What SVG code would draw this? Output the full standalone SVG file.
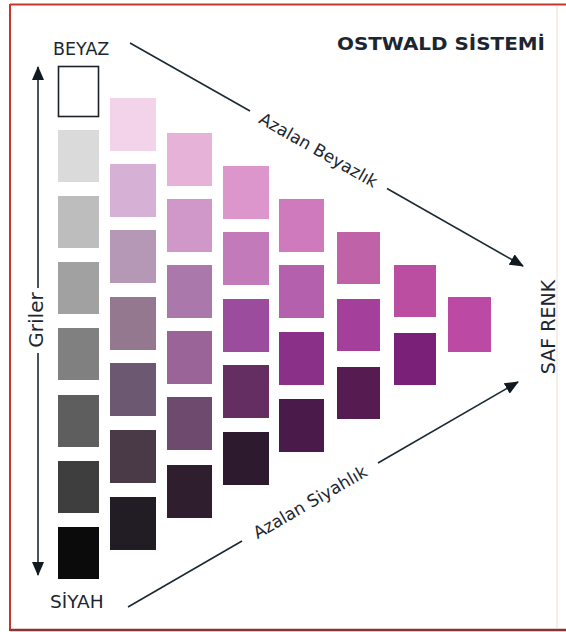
<svg xmlns="http://www.w3.org/2000/svg" width="566" height="632" viewBox="0 0 566 632">
<style>
.lbl{font-family:"DejaVu Sans",Verdana,sans-serif;fill:#1b2630}
.ln{stroke:#1b2a32;stroke-width:1.6;fill:none}
</style>
<defs>
<marker id="ah" viewBox="0 0 14 12" refX="13" refY="6" markerWidth="14" markerHeight="12" markerUnits="userSpaceOnUse" orient="auto">
<path d="M0,0 L14,6 L0,12 z" fill="#111a20"/>
</marker>
</defs>
<rect width="566" height="632" fill="#ffffff"/>
<g id="frame">
<line x1="10" y1="4.5" x2="566" y2="4.5" stroke="#c2382e" stroke-width="2"/>
<line x1="10" y1="4" x2="10" y2="631" stroke="#c2382e" stroke-width="2"/>
<line x1="10" y1="630" x2="566" y2="630" stroke="#8c3230" stroke-width="2.5"/>
<line x1="557" y1="6" x2="557" y2="628" stroke="#f6eee8" stroke-width="2"/>
</g>
<g id="title"><text class="lbl" x="337" y="50" font-size="17" font-weight="bold" textLength="208" lengthAdjust="spacingAndGlyphs">OSTWALD SİSTEMİ</text></g>
<g id="col1">
<rect x="58.5" y="66.5" width="40" height="50" fill="#ffffff" stroke="#1a2228" stroke-width="1.6"/>
<rect x="58" y="130" width="41" height="52" fill="#dadada"/>
<rect x="58" y="196" width="41" height="52" fill="#bdbdbd"/>
<rect x="58" y="262" width="41" height="52" fill="#a1a1a1"/>
<rect x="58" y="328" width="41" height="52" fill="#808080"/>
<rect x="58" y="395" width="41" height="52" fill="#5e5e5e"/>
<rect x="58" y="461" width="41" height="52" fill="#3e3e3e"/>
<rect x="58" y="527" width="41" height="52" fill="#0b0b0b"/>
</g>
<g id="col2">
<rect x="110" y="98" width="46" height="53" fill="#f2d3e9"/>
<rect x="110" y="164" width="46" height="53" fill="#d7b0d5"/>
<rect x="110" y="230" width="46" height="53" fill="#b598b5"/>
<rect x="110" y="297" width="46" height="53" fill="#93788f"/>
<rect x="110" y="363" width="46" height="53" fill="#6c5870"/>
<rect x="110" y="430" width="46" height="53" fill="#4a3a48"/>
<rect x="110" y="497" width="46" height="53" fill="#221c24"/>
</g>
<g id="col3">
<rect x="167" y="133" width="45" height="53" fill="#e6b2d8"/>
<rect x="167" y="199" width="45" height="53" fill="#cf98c9"/>
<rect x="167" y="265" width="45" height="53" fill="#aa78aa"/>
<rect x="167" y="331" width="45" height="53" fill="#9a6498"/>
<rect x="167" y="397" width="45" height="53" fill="#6e4a6e"/>
<rect x="167" y="465" width="45" height="53" fill="#2e1e2e"/>
</g>
<g id="col4">
<rect x="223" y="166" width="46" height="53" fill="#dc96cc"/>
<rect x="223" y="232" width="46" height="53" fill="#c27abb"/>
<rect x="223" y="299" width="46" height="53" fill="#9c4c9c"/>
<rect x="223" y="365" width="46" height="53" fill="#652e62"/>
<rect x="223" y="432" width="46" height="53" fill="#2e1a2e"/>
</g>
<g id="col5">
<rect x="279" y="199" width="45" height="53" fill="#d07abe"/>
<rect x="279" y="265" width="45" height="53" fill="#b460ac"/>
<rect x="279" y="332" width="45" height="53" fill="#8a3088"/>
<rect x="279" y="399" width="45" height="53" fill="#4a1a4a"/>
</g>
<g id="col6">
<rect x="337" y="232" width="43" height="52" fill="#c062a8"/>
<rect x="337" y="299" width="43" height="52" fill="#a4409c"/>
<rect x="337" y="367" width="43" height="52" fill="#561c52"/>
</g>
<g id="col7">
<rect x="394" y="265" width="42" height="52" fill="#bc4ea2"/>
<rect x="394" y="333" width="42" height="52" fill="#7a2078"/>
</g>
<g id="col8">
<rect x="448" y="297" width="43" height="55" fill="#bc4aa4"/>
</g>
<g id="connectors">
<line class="ln" x1="38" y1="288" x2="38" y2="67" marker-end="url(#ah)"/>
<line class="ln" x1="38" y1="353" x2="38" y2="575" marker-end="url(#ah)"/>
<line class="ln" x1="130" y1="43" x2="250" y2="111"/>
<line class="ln" x1="387" y1="188.5" x2="523" y2="266" marker-end="url(#ah)"/>
<line class="ln" x1="128" y1="607" x2="242" y2="541"/>
<line class="ln" x1="378" y1="463" x2="518" y2="382" marker-end="url(#ah)"/>
</g>
<g id="labels">
<text class="lbl" x="53" y="55" font-size="17.5">BEYAZ</text>
<text class="lbl" x="50" y="608" font-size="18.5">SİYAH</text>
<text class="lbl" font-size="20" text-anchor="middle" transform="translate(43,320) rotate(-90)">Griler</text>
<text class="lbl" font-size="19" text-anchor="middle" transform="translate(555,327) rotate(-90)">SAF RENK</text>
<text class="lbl" font-size="17" text-anchor="middle" transform="translate(318.5,150) rotate(29.6)" y="6">Azalan Beyazlık</text>
<text class="lbl" font-size="17" text-anchor="middle" transform="translate(310,502) rotate(-30)" y="6">Azalan Siyahlık</text>
</g>
</svg>
